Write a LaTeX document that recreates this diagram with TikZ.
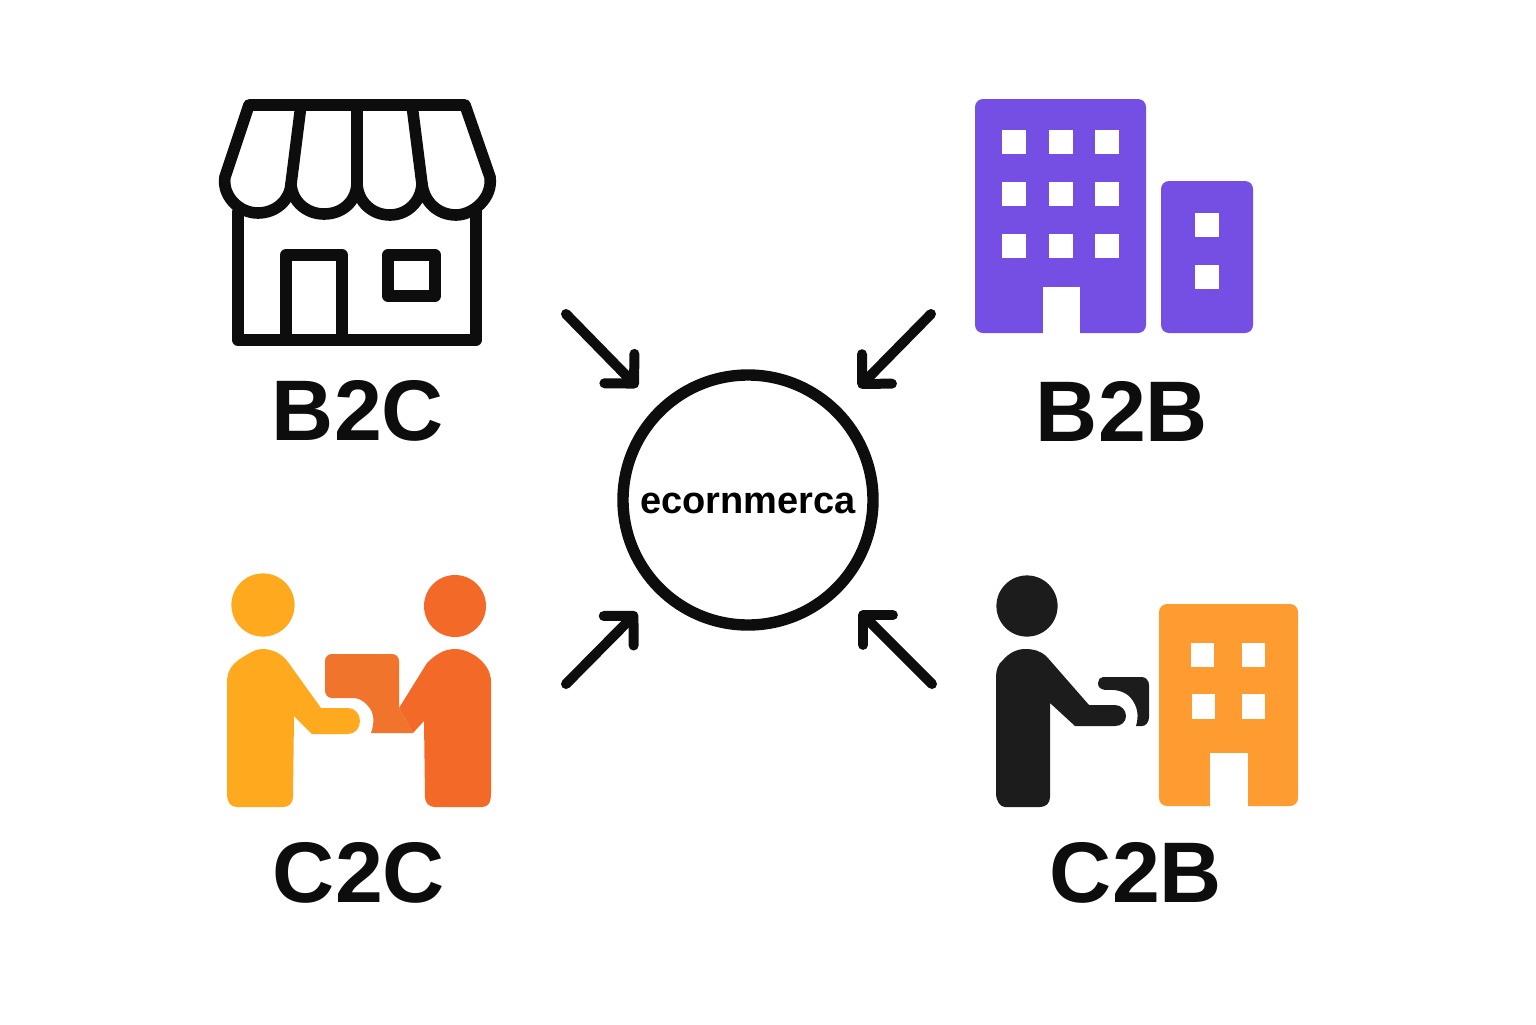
\documentclass[tikz,border=0pt]{standalone}
\usepackage{fontspec}
\setmainfont{Liberation Sans}
\usetikzlibrary{arrows.meta}

\begin{document}
\begin{tikzpicture}[x=0.5pt,y=-0.5pt]
        \tikzstyle{every node}=[font=\bfseries]
        \tikzstyle{modellabel}=[text=black!95,font=\fontsize{43}{48}\selectfont\bfseries]
        \tikzstyle{hubcircle}=[circle,draw=black!95,line width=5.7pt,minimum size=125pt,inner sep=0pt,text height=14pt,font=\fontsize{19}{22}\selectfont\bfseries]
        \tikzstyle{hubarrow}=[draw=black!95,line width=5pt,line cap=round,shorten >=13.6pt,-{Straight Barb[length=10.5pt,width=21pt,round]}]
        \tikzstyle{shopline}=[draw=black!95,line width=5.8pt,line join=round,line cap=round]
        \tikzstyle{purplewall}=[fill=purple1,rounded corners=4pt]
        \tikzstyle{orangewall}=[fill=orange3,rounded corners=4pt]
        \definecolor{purple1}{HTML}{754EE4}
        \definecolor{orange1}{HTML}{FFA91E}
        \definecolor{orange2}{HTML}{F36A28}
        \definecolor{orange3}{HTML}{FE9C31}
        \definecolor{parcel1}{HTML}{F1742D}
        \definecolor{ink1}{HTML}{1C1C1C}

        \useasboundingbox (0,0) rectangle (1536,1024);
        \fill[white] (0,0) rectangle (1536,1024);

        \node[hubcircle] (hub) at (748,500) {ecornmerca};

        \node[modellabel] (b2c) at (358,411) {B2C};
        \node[modellabel] (b2b) at (1122,411) {B2B};
        \node[modellabel] (c2c) at (359,873) {C2C};
        \node[modellabel] (c2b) at (1136,873) {C2B};

        \coordinate (b2cfrom) at (566,314);
        \coordinate (b2bfrom) at (931,314);
        \coordinate (c2cfrom) at (566,684);
        \coordinate (c2bfrom) at (932,684);
        \draw[hubarrow] (b2cfrom) -- (hub);
        \draw[hubarrow] (b2bfrom) -- (hub);
        \draw[hubarrow] (c2cfrom) -- (hub);
        \draw[hubarrow] (c2bfrom) -- (hub);

        % shop
        \draw[shopline] (249,105) -- (465,105) -- (490,177)
            .. controls (493,198) and (473,215) .. (456,215)
            .. controls (438,215) and (424,202) .. (422,184)
            .. controls (421,202) and (407,215) .. (390,215)
            .. controls (372,215) and (358,202) .. (357,184)
            .. controls (356,202) and (342,214) .. (324,214)
            .. controls (307,214) and (292,202) .. (291,184)
            .. controls (290,200) and (276,213) .. (258,213)
            .. controls (238,213) and (222,195) .. (225,177) -- cycle;
        \draw[shopline] (301,105) -- (291,184);
        \draw[shopline] (357,105) -- (357,184);
        \draw[shopline] (412,105) -- (422,184);
        \draw[shopline] (238,212) -- (238,340) -- (476,340) -- (476,212);
        \draw[shopline] (286,340) -- (286,255) -- (342,255) -- (342,340);
        \draw[shopline] (388,255) rectangle (435,296);

        % offices
        \fill[purplewall] (975,99) rectangle (1146,333);
        \fill[purplewall] (1161,181) rectangle (1253,333);
        \fill[white] (1043,287) rectangle (1080,334);
        \fill[white] (1002,130) rectangle (1026,154);
        \fill[white] (1049,130) rectangle (1073,154);
        \fill[white] (1095,130) rectangle (1119,154);
        \fill[white] (1002,182) rectangle (1026,206);
        \fill[white] (1049,182) rectangle (1073,206);
        \fill[white] (1095,182) rectangle (1119,206);
        \fill[white] (1002,234) rectangle (1026,258);
        \fill[white] (1049,234) rectangle (1073,258);
        \fill[white] (1095,234) rectangle (1119,258);
        \fill[white] (1195,213) rectangle (1219,237);
        \fill[white] (1195,265) rectangle (1219,289);

        % two people
        \fill[orange1] (263,605) circle (15.8pt);
        \fill[orange1] (227,793) -- (227,682)
            .. controls (227,670) and (233,663) .. (243,657)
            .. controls (250,653) and (255,649) .. (262,649)
            .. controls (273,649) and (282,654) .. (288,662)
            -- (321,708) -- (348,708)
            .. controls (355,708) and (360,714) .. (360,721)
            .. controls (360,728) and (355,734) .. (348,734)
            -- (312,734) -- (294,716) -- (293,797)
            .. controls (293,803) and (289,807) .. (283,807)
            -- (237,807) .. controls (231,807) and (227,803) .. (227,793) -- cycle;
        \fill[orange2] (455,606) circle (15.5pt);
        \fill[parcel1] (332,654) -- (392,654)
            .. controls (396,654) and (399,657) .. (399,661)
            -- (399,708) -- (413,733) -- (371,733)
            .. controls (375,722) and (374,712) .. (368,706)
            .. controls (363,700) and (358,698) .. (353,698)
            -- (332,698) .. controls (327,698) and (325,694) .. (325,690)
            -- (325,661) .. controls (325,657) and (328,654) .. (332,654) -- cycle;
        \fill[orange2] (491,793) -- (491,682)
            .. controls (491,672) and (486,664) .. (477,657)
            .. controls (470,652) and (463,649) .. (455,649)
            .. controls (443,649) and (434,656) .. (427,663)
            -- (399,708) -- (413,733) -- (424,721) -- (425,797)
            .. controls (425,803) and (429,807) .. (435,807)
            -- (482,807) .. controls (488,807) and (491,803) .. (491,793) -- cycle;

        % customer and company
        \fill[ink1] (1027,606) circle (15.3pt);
        \fill[ink1] (996,793) -- (996,677)
            .. controls (996,670) and (998,664) .. (1003,660)
            .. controls (1009,653) and (1017,649) .. (1025,649)
            .. controls (1034,649) and (1041,651) .. (1047,657)
            -- (1089,705) -- (1115,705)
            .. controls (1121,705) and (1126,710) .. (1126,716)
            .. controls (1126,722) and (1121,726) .. (1115,726)
            -- (1075,726) -- (1050,703) -- (1050,797)
            .. controls (1050,803) and (1046,807) .. (1040,807)
            -- (1005,807) .. controls (1000,807) and (996,801) .. (996,793) -- cycle;
        \fill[ink1] (1103,677) -- (1142,677)
            .. controls (1146,677) and (1149,681) .. (1149,685)
            -- (1149,717) .. controls (1149,722) and (1146,726) .. (1142,726)
            -- (1136,726) .. controls (1139,716) and (1138,706) .. (1130,697)
            .. controls (1124,691) and (1115,689) .. (1105,690)
            .. controls (1100,689) and (1098,687) .. (1098,683)
            .. controls (1098,680) and (1100,677) .. (1103,677) -- cycle;
        \fill[orangewall] (1159,604) rectangle (1298,806);
        \fill[white] (1210,753) rectangle (1248,807);
        \fill[white] (1191,643) rectangle (1214,667);
        \fill[white] (1242,643) rectangle (1265,667);
        \fill[white] (1192,694) rectangle (1215,719);
        \fill[white] (1242,694) rectangle (1265,719);
    \end{tikzpicture}
\end{document}
